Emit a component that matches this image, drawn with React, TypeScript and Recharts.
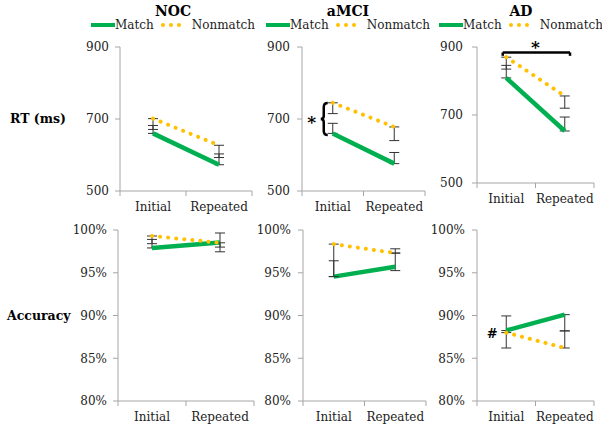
import React from 'react';
import { LineChart, Line, XAxis, YAxis, ErrorBar, Legend, ReferenceDot, ReferenceLine } from 'recharts';

const FONT = '"DejaVu Serif", serif';
const AXIS = '#a6a6a6';
const TEXT = '#222';
const GREEN = '#00b050';
const GOLD = '#ffc000';

const categories = ['Initial', 'Repeated'];
const groups = ['NOC', 'aMCI', 'AD'];
const seriesNames = ['Match', 'Nonmatch'];

const rtTicks = [500, 700, 900];
const accTicks = [80, 85, 90, 95, 100];

// RT (ms)
const nocRtMatch = [660, 573];
const nocRtNonmatch = [701, 627];
const amciRtMatch = [660, 576];
const amciRtNonmatch = [745, 678];
const adRtMatch = [809, 653];
const adRtNonmatch = [870, 756];

// RT error bars [below, above]
const nocRtMatchErr = [[0, 22], [0, 30]];
const nocRtNonmatchErr = [[30, 0], [34, 0]];
const amciRtMatchErr = [[0, 28], [0, 31]];
const amciRtNonmatchErr = [[30, 0], [38, 0]];
const adRtMatchErr = [[0, 37], [0, 41]];
const adRtNonmatchErr = [[35, 0], [36, 0]];

// Accuracy (%)
const nocAccMatch = [97.9, 98.55];
const nocAccNonmatch = [99.3, 98.5];
const amciAccMatch = [94.55, 95.7];
const amciAccNonmatch = [98.35, 97.3];
const adAccMatch = [88.25, 90.1];
const adAccNonmatch = [88.0, 86.2];

const nocAccMatchErr = [[0, 1.0], [1.1, 1.1]];
const nocAccNonmatchErr = [[0.9, 0], [0.5, 0]];
const amciAccMatchErr = [[0, 1.85], [0.45, 1.6]];
const amciAccNonmatchErr = [[3.8, 0], [0, 0.5]];
const adAccMatchErr = [[0, 1.7], [1.9, 0]];
const adAccNonmatchErr = [[1.8, 0], [0, 2.0]];

// annotations (data coordinates)
const amciBraceY = 700;
const adBracket = { from: 0.44, to: 1.59, y: 884, tick: 10 };
const adHashY = 88.0;

function buildRows(match: number[], nonmatch: number[], matchErr: number[][], nonErr: number[][]) {
  return categories.map((c, i) => ({
    pos: i + 0.5,
    category: c,
    match: match[i],
    nonmatch: nonmatch[i],
    matchErr: matchErr[i],
    nonmatchErr: nonErr[i],
  }));
}

const XTick = (props: any) => {
  const { x, y, payload } = props;
  const v = payload.value;
  const frac = v - Math.floor(v);
  if (Math.abs(frac - 0.5) < 1e-6) {
    return (
      <text x={x} y={y + 20} textAnchor="middle" fontSize={12} fill={TEXT} fontFamily={FONT}>
        {categories[Math.floor(v)]}
      </text>
    );
  }
  return <line x1={x} y1={y} x2={x} y2={y + 5} stroke={AXIS} strokeWidth={1} />;
};

const makeLegend = (title: string) => (props: any) => {
  const payload = props.payload || [];
  return (
    <div style={{ textAlign: 'center', fontFamily: FONT }}>
      <div style={{ fontWeight: 700, fontSize: 14, lineHeight: '14px', color: '#000' }}>{title}</div>
      <div style={{ display: 'flex', justifyContent: 'center', alignItems: 'center', fontSize: 12, lineHeight: '14px', color: TEXT }}>
        {payload.map((e: any, i: number) => {
          const dotted = e.value === seriesNames[1];
          return (
            <span key={i} style={{ display: 'inline-flex', alignItems: 'center', marginLeft: i ? 6 : 0 }}>
              {dotted ? (
                <svg width={26} height={10} style={{ marginRight: 6 }}>
                  {[3, 11, 19].map((cx) => (
                    <circle key={cx} cx={cx} cy={5} r={2} fill={GOLD} />
                  ))}
                </svg>
              ) : (
                <svg width={24} height={10}>
                  <line x1={0} y1={5} x2={24} y2={5} stroke={GREEN} strokeWidth={4} />
                </svg>
              )}
              <span>{e.value}</span>
            </span>
          );
        })}
      </div>
    </div>
  );
};

type Box = { left: number; top: number; width: number; height: number; mt: number; mr: number; mb: number; yw: number; gap: number };

type PanelProps = {
  rows: any[];
  box: Box;
  domain: [number, number];
  ticks: number[];
  fmt?: (v: number) => string;
  title?: string;
  legendCenter?: number;
  rowLabel?: string;
  labelOffset?: number;
  children?: React.ReactNode;
};

const Panel = ({ rows, box, domain, ticks, fmt, title, legendCenter, rowLabel, labelOffset, children }: PanelProps) => (
  <div style={{ position: 'absolute', left: box.left, top: box.top }}>
    <LineChart
      width={box.width}
      height={box.height}
      data={rows}
      margin={{ top: box.mt, right: box.mr, bottom: box.mb, left: 0 }}
    >
      <XAxis
        dataKey="pos"
        type="number"
        domain={[0, 2]}
        ticks={[0, 0.5, 1, 1.5, 2]}
        interval={0}
        tickSize={0}
        tickMargin={0}
        tickLine={false}
        axisLine={{ stroke: AXIS }}
        tick={<XTick />}
        height={20}
      />
      <YAxis
        type="number"
        domain={domain}
        ticks={ticks}
        interval={0}
        width={box.yw}
        tickSize={5}
        tickMargin={box.gap - 5}
        axisLine={{ stroke: AXIS }}
        tickLine={{ stroke: AXIS }}
        tick={{ fontSize: 12, fill: TEXT, fontFamily: FONT }}
        tickFormatter={fmt}
        label={
          rowLabel
            ? { value: rowLabel, position: 'insideLeft', offset: labelOffset ?? 9, fill: '#000', fontSize: 12.5, fontWeight: 700, fontFamily: FONT }
            : undefined
        }
      />
      {title !== undefined && (
        <Legend
          layout="horizontal"
          verticalAlign="middle"
          align="center"
          wrapperStyle={{ left: (legendCenter || 0) - 110, top: 4, width: 220 }}
          content={makeLegend(title)}
        />
      )}
      <Line
        type="linear"
        dataKey="match"
        name={seriesNames[0]}
        stroke={GREEN}
        strokeWidth={4.5}
        dot={false}
        activeDot={false}
        isAnimationActive={false}
      >
        <ErrorBar dataKey="matchErr" direction="y" width={5} stroke="#333" strokeWidth={1} />
      </Line>
      <Line
        type="linear"
        dataKey="nonmatch"
        name={seriesNames[1]}
        stroke={GOLD}
        strokeWidth={4}
        strokeDasharray="0.1 8"
        strokeLinecap="round"
        dot={false}
        activeDot={false}
        isAnimationActive={false}
      >
        <ErrorBar dataKey="nonmatchErr" direction="y" width={5} stroke="#333" strokeWidth={1} />
      </Line>
      {children}
    </LineChart>
  </div>
);

const pct = (v: number) => `${v}%`;

const topBoxes: Box[] = [
  { left: 0, top: 0, width: 272, height: 215, mt: 47, mr: 20, mb: 4, yw: 120, gap: 11 },
  { left: 250, top: 0, width: 190, height: 215, mt: 47, mr: 15, mb: 4, yw: 52, gap: 12 },
  { left: 425, top: 0, width: 177, height: 215, mt: 47, mr: 8, mb: 12, yw: 52, gap: 14 },
];
const bottomBoxes: Box[] = [
  { left: 0, top: 210, width: 274, height: 219, mt: 20, mr: 20, mb: 8, yw: 118, gap: 11 },
  { left: 250, top: 210, width: 190, height: 219, mt: 20, mr: 14, mb: 8, yw: 53, gap: 12 },
  { left: 425, top: 210, width: 177, height: 219, mt: 20, mr: 8, mb: 8, yw: 52, gap: 12 },
];
const legendCenters = [173, 98, 96];

const BraceShape = (p: any) => {
  const { cx, cy } = p;
  const d = `M ${cx - 5} ${cy - 16} Q ${cx - 9} ${cy - 16} ${cx - 9} ${cy - 12} L ${cx - 9} ${cy - 3} Q ${cx - 9} ${cy} ${cx - 12} ${cy} Q ${cx - 9} ${cy} ${cx - 9} ${cy + 3} L ${cx - 9} ${cy + 12} Q ${cx - 9} ${cy + 16} ${cx - 5} ${cy + 16}`;
  return (
    <g>
      <path d={d} fill="none" stroke="#000" strokeWidth={2.5} />
      <text x={cx - 21} y={cy + 9} textAnchor="middle" fontSize={17} fontWeight={700} fill="#000" fontFamily={FONT}>*</text>
    </g>
  );
};

const StarShape = (p: any) => (
  <text x={p.cx} y={p.cy + 1} textAnchor="middle" fontSize={17} fontWeight={700} fill="#000" fontFamily={FONT}>*</text>
);

const HashShape = (p: any) => (
  <text x={p.cx - 14} y={p.cy + 5} textAnchor="middle" fontSize={13} fontWeight={700} fill="#000" fontFamily={FONT}>#</text>
);

export default function App() {
  const rtRows = [
    buildRows(nocRtMatch, nocRtNonmatch, nocRtMatchErr, nocRtNonmatchErr),
    buildRows(amciRtMatch, amciRtNonmatch, amciRtMatchErr, amciRtNonmatchErr),
    buildRows(adRtMatch, adRtNonmatch, adRtMatchErr, adRtNonmatchErr),
  ];
  const accRows = [
    buildRows(nocAccMatch, nocAccNonmatch, nocAccMatchErr, nocAccNonmatchErr),
    buildRows(amciAccMatch, amciAccNonmatch, amciAccMatchErr, amciAccNonmatchErr),
    buildRows(adAccMatch, adAccNonmatch, adAccMatchErr, adAccNonmatchErr),
  ];

  return (
    <div style={{ position: 'absolute', left: 0, top: 0, width: 602, height: 429, background: '#fff', fontFamily: FONT, overflow: 'hidden' }}>
      {/* RT row */}
      <Panel rows={rtRows[0]} box={topBoxes[0]} domain={[500, 900]} ticks={rtTicks} title={groups[0]} legendCenter={legendCenters[0]} rowLabel="RT (ms)" labelOffset={10} />
      <Panel rows={rtRows[1]} box={topBoxes[1]} domain={[500, 900]} ticks={rtTicks} title={groups[1]} legendCenter={legendCenters[1]}>
        <ReferenceDot x={0.5} y={amciBraceY} r={1} fill="none" stroke="none" shape={BraceShape} />
      </Panel>
      <Panel rows={rtRows[2]} box={topBoxes[2]} domain={[500, 900]} ticks={rtTicks} title={groups[2]} legendCenter={legendCenters[2]}>
        <ReferenceLine segment={[{ x: adBracket.from, y: adBracket.y }, { x: adBracket.to, y: adBracket.y }]} stroke="#000" strokeWidth={2.5} />
        <ReferenceLine segment={[{ x: adBracket.from, y: adBracket.y }, { x: adBracket.from, y: adBracket.y - adBracket.tick }]} stroke="#000" strokeWidth={2.5} />
        <ReferenceLine segment={[{ x: adBracket.to, y: adBracket.y }, { x: adBracket.to, y: adBracket.y - adBracket.tick }]} stroke="#000" strokeWidth={2.5} />
        <ReferenceDot x={1} y={adBracket.y} r={1} fill="none" stroke="none" shape={StarShape} />
      </Panel>
      {/* Accuracy row */}
      <Panel rows={accRows[0]} box={bottomBoxes[0]} domain={[80, 100]} ticks={accTicks} fmt={pct} rowLabel="Accuracy" labelOffset={7} />
      <Panel rows={accRows[1]} box={bottomBoxes[1]} domain={[80, 100]} ticks={accTicks} fmt={pct} />
      <Panel rows={accRows[2]} box={bottomBoxes[2]} domain={[80, 100]} ticks={accTicks} fmt={pct}>
        <ReferenceDot x={0.5} y={adHashY} r={1} fill="none" stroke="none" shape={HashShape} />
      </Panel>
    </div>
  );
}
